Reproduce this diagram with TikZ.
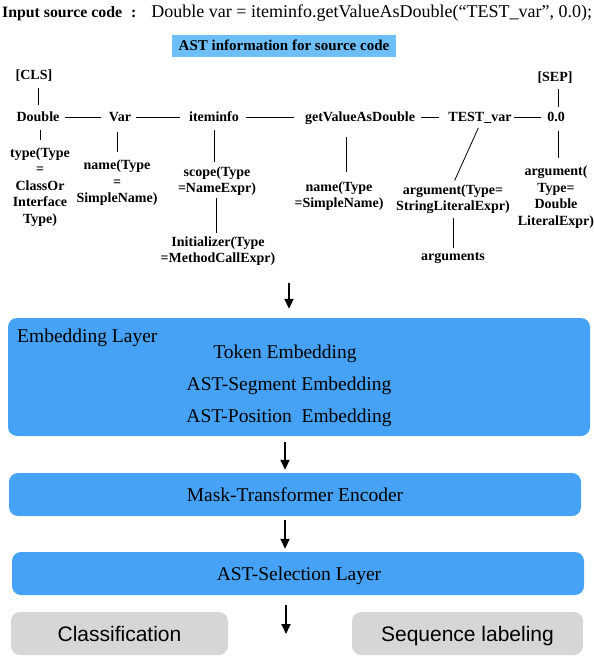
\documentclass[tikz,border=0pt]{standalone}
\usepackage{fontspec}
\setmainfont{Liberation Serif}
\newfontfamily\sansf{Liberation Sans}
\usetikzlibrary{arrows.meta}
\definecolor{boxblue}{HTML}{46A2F6}
\definecolor{hdrblue}{HTML}{6EBFF8}
\definecolor{boxgray}{HTML}{D6D6D6}
\begin{document}
\begin{tikzpicture}[x=1pt,y=-1pt,
 tok/.style={font=\bfseries\fontsize{14}{16.5}\selectfont, inner sep=0pt, text height=10pt, text depth=3pt},
 lbl/.style={font=\bfseries\fontsize{14}{16.5}\selectfont, inner sep=0pt, align=center},
 edge/.style={line width=0.8pt},
 layer/.style={fill=boxblue, rounded corners=9pt, inner sep=0pt},
 task/.style={fill=boxgray, rounded corners=9pt, inner sep=0pt, text height=15.6pt, text depth=0pt,
              font=\sansf\fontsize{21}{24}\selectfont},
 btxt/.style={font=\fontsize{19.5}{23}\selectfont, inner sep=0pt, anchor=base},
 arr/.style={line width=1.8pt, -{Triangle[length=10pt,width=9pt]}}]
\useasboundingbox (0,0) rectangle (594,656);

% title
\node[anchor=base west, inner sep=0pt] (title) at (2,17)
  {\bfseries\fontsize{15.8}{19}\selectfont Input source code\hspace{9pt}:\hspace{15pt}\mdseries\fontsize{18}{20}\selectfont Double var = iteminfo.getValueAsDouble(“TEST\_var”, 0.0);};
\node[fill=hdrblue, minimum width=224pt, minimum height=22pt, inner sep=0pt,
      font=\bfseries\fontsize{15}{18}\selectfont] (hdr) at (284,45.5) {AST information for source code};

% tree tokens
\node[tok] (cls) at (34,76) {[CLS]};
\node[tok] (sep) at (555,78) {[SEP]};
\node[tok] (double) at (38,117.5) {Double};
\node[tok] (var) at (120,117.5) {Var};
\node[tok] (item) at (214,117.5) {iteminfo};
\node[tok] (get) at (360,117.5) {getValueAsDouble};
\node[tok] (test) at (480,117.5) {TEST\_var};
\node[tok] (zero) at (556,117.5) {0.0};

% attribute labels
\node[lbl] (type) at (40,187) {type(Type\\=\\ClassOr\\Interface\\Type)};
\node[lbl] (name1) at (117,183) {name(Type\\=\\SimpleName)};
\node[lbl] (scope) at (217,181) {scope(Type\\=NameExpr)};
\node[lbl] (init) at (218,251) {Initializer(Type\\=MethodCallExpr)};
\node[lbl] (name2) at (339,196) {name(Type\\=SimpleName)};
\node[lbl] (arg1) at (453,199) {argument(Type=\\StringLiteralExpr)};
\node[tok] (args) at (453,257) {arguments};
\node[lbl] (arg2) at (556,197) {argument(\\Type=\\Double\\LiteralExpr)};

% horizontal chain
\draw[edge, shorten <=5pt, shorten >=8pt] (double) -- (var);
\draw[edge, shorten <=5pt, shorten >=9pt] (var) -- (item);
\draw[edge, shorten <=7pt, shorten >=11pt] (item) -- (get);
\draw[edge, shorten <=6pt, shorten >=9pt] (get) -- (test);
\draw[edge, shorten <=2pt, shorten >=6pt] (test) -- (zero);

% vertical links
\draw[edge, shorten <=5.5pt, shorten >=6pt] (cls.south -| double) -- (double.north);
\draw[edge, shorten <=4.5pt, shorten >=4pt] ([xshift=3pt]sep.south) -- ([xshift=3pt]sep.south |- zero.north);
\draw[edge, shorten <=6pt, shorten >=7pt] ([xshift=2pt]double.south) -- ([xshift=2pt]double.south |- type.north);
\draw[edge, shorten <=8pt, shorten >=8pt] ([xshift=-3pt]var.south) -- ([xshift=-3pt]var.south |- name1.north);
\draw[edge, shorten <=6pt, shorten >=4pt] (item.south) -- (item.south |- scope.north);
\draw[edge, shorten <=2pt, shorten >=3pt] ([xshift=-1pt]scope.south) -- ([xshift=-1pt]scope.south |- init.north);
\draw[edge, shorten <=13pt, shorten >=9pt] ([xshift=-14pt]get.south) -- ([xshift=-14pt]get.south |- name2.north);
\draw[edge, shorten <=4pt, shorten >=4pt] (test.south) -- (arg1.north);
\draw[edge, shorten <=4pt, shorten >=2.5pt] (arg1.south) -- (args.north);
\draw[edge, shorten <=7pt, shorten >=7.5pt] ([xshift=2pt]zero.south) -- ([xshift=2pt]zero.south |- arg2.north);

% layers
\node[layer, minimum width=582pt, minimum height=118pt] (emb) at (299,377) {};
\node[btxt, anchor=base west] (embt) at (17,342) {Embedding Layer};
\node[btxt] (tokt) at (285,358) {Token Embedding};
\node[btxt] (segt) at (289,390) {AST-Segment Embedding};
\node[btxt] (post) at (289,422) {AST-Position\ \ Embedding};

\node[layer, minimum width=572pt, minimum height=43pt] (mask) at (295,494.5) {};
\node[btxt] (maskt) at (295,501) {Mask-Transformer Encoder};

\node[layer, minimum width=572pt, minimum height=43pt] (sel) at (298,573.5) {};
\node[btxt] (selt) at (299,580) {AST-Selection Layer};

\node[task, minimum width=217pt, minimum height=43pt] (cla) at (119.5,633.5) {Classification};
\node[task, minimum width=231pt, minimum height=43pt] (seq) at (467.5,633.5) {Sequence labeling};

% arrows
\coordinate (a1) at (289,283);
\coordinate (a4) at (286,634);
\draw[arr, shorten >=9pt] (a1) -- (a1 |- emb.north);
\draw[arr, shorten <=6pt, shorten >=3pt] ([xshift=-14pt]emb.south) -- ([xshift=-14pt]emb.south |- mask.north);
\draw[arr, shorten <=4pt, shorten >=3pt] ([xshift=-10pt]mask.south) -- ([xshift=-10pt]mask.south |- sel.north);
\draw[arr, shorten <=10pt] ([xshift=-12pt]sel.south) -- (a4);
\end{tikzpicture}
\end{document}
